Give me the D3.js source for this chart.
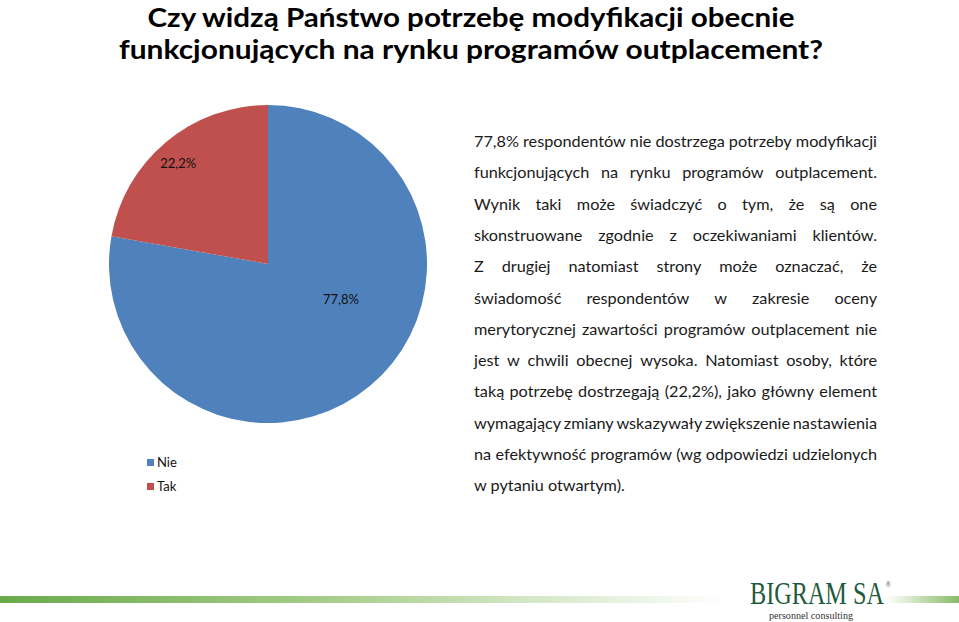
<!DOCTYPE html>
<html><head><meta charset="utf-8">
<script src="https://cdn.jsdelivr.net/npm/d3@7"></script>
<style>body{margin:0;background:#fff}svg{display:block}</style>
</head><body>
<svg id="c" width="959" height="622"></svg>
<script>
const categories = ["Nie", "Tak"];
const values = [77.8, 22.2];
const labels = ["77,8%", "22,2%"];
const colors = ["#4f81bd", "#c0504d"];
const titleLines = ["Czy widzą Państwo potrzebę modyfikacji obecnie", "funkcjonujących na rynku programów outplacement?"];
const bodyLines = [
 "77,8% respondentów nie dostrzega potrzeby modyfikacji",
 "funkcjonujących na rynku programów outplacement.",
 "Wynik taki może świadczyć o tym, że są one",
 "skonstruowane zgodnie z oczekiwaniami klientów.",
 "Z drugiej natomiast strony może oznaczać, że",
 "świadomość respondentów w zakresie oceny",
 "merytorycznej zawartości programów outplacement nie",
 "jest w chwili obecnej wysoka. Natomiast osoby, które",
 "taką potrzebę dostrzegają (22,2%), jako główny element",
 "wymagający zmiany wskazywały zwiększenie nastawienia",
 "na efektywność programów (wg odpowiedzi udzielonych",
 "w pytaniu otwartym)."
];

const svg = d3.select("#c");
const FONT = "Lato, 'Open Sans', sans-serif";

// gradient bar
const defs = svg.append("defs");
const g1 = defs.append("linearGradient").attr("id","gl");
g1.append("stop").attr("offset","0").attr("stop-color","#6aaa4a");
g1.append("stop").attr("offset","0.45").attr("stop-color","#a6cd8a");
g1.append("stop").attr("offset","1").attr("stop-color","#ffffff");
const g2 = defs.append("linearGradient").attr("id","gr");
g2.append("stop").attr("offset","0").attr("stop-color","#ffffff");
g2.append("stop").attr("offset","1").attr("stop-color","#86bb66");
svg.append("rect").attr("x",0).attr("y",596).attr("width",725).attr("height",7).attr("fill","url(#gl)");
svg.append("rect").attr("x",886).attr("y",596).attr("width",73).attr("height",7).attr("fill","url(#gr)");

// title (squeezed to the reference width)
svg.append("text").attr("x",471).attr("y",27).attr("text-anchor","middle")
  .attr("font-family",FONT).attr("font-weight","bold").attr("font-size",27).attr("fill","#000")
  .attr("textLength",647).attr("lengthAdjust","spacingAndGlyphs").text(titleLines[0]);
svg.append("text").attr("x",471).attr("y",59).attr("text-anchor","middle")
  .attr("font-family",FONT).attr("font-weight","bold").attr("font-size",27).attr("fill","#000")
  .attr("textLength",704).attr("lengthAdjust","spacingAndGlyphs").text(titleLines[1]);

// pie
const cx = 268, cy = 264, R = 159;
const pie = d3.pie().sort(null).value(d=>d)(values);
const arc = d3.arc().innerRadius(0).outerRadius(R);
const pg = svg.append("g").attr("transform",`translate(${cx},${cy})`);
pg.selectAll("path").data(pie).join("path").attr("d",arc).attr("fill",(d,i)=>colors[i]);
// label placement (fraction of radius, angle shift in radians) like the source's best fit
const labelPos = [{r:0.51, shift:-0.42}, {r:0.85, shift:-0.03}];
pg.selectAll("text.l").data(pie).join("text").attr("class","l")
  .attr("transform",(d,i)=>{
    const a = (d.startAngle+d.endAngle)/2 + labelPos[i].shift;
    const rr = R*labelPos[i].r;
    return `translate(${rr*Math.sin(a)},${-rr*Math.cos(a)})`; })
  .attr("text-anchor","middle").attr("dy","0.35em")
  .attr("font-family",FONT).attr("font-size",13).attr("fill","#111")
  .text((d,i)=>labels[i]);

// legend
const lg = svg.append("g");
categories.forEach((c,i)=>{
  const y = 467 + i*24;
  lg.append("rect").attr("x",147).attr("y",y-8).attr("width",7).attr("height",7).attr("fill",colors[i]);
  lg.append("text").attr("x",157).attr("y",y).attr("font-family",FONT).attr("font-size",13).attr("fill","#111").text(c);
});

// body text, justified
const x0 = 474, x1 = 877;
const tmp = svg.append("text").attr("font-family",FONT).attr("font-size",16).text(bodyLines[0]);
const bfs = 16 * (x1-x0) / tmp.node().getComputedTextLength();
tmp.remove();
const bg = svg.append("g").attr("font-family",FONT).attr("font-size",bfs).attr("fill","#1a1a1a");
bodyLines.forEach((line,i)=>{
  const y = 147 + i*31.3;
  const words = line.split(" ");
  if (i === bodyLines.length-1) {
    bg.append("text").attr("x",x0).attr("y",y).text(line);
    return;
  }
  const els = words.map(w=>bg.append("text").attr("y",y).text(w));
  const ws = els.map(e=>e.node().getComputedTextLength());
  const total = d3.sum(ws);
  const gap = (x1-x0-total)/(words.length-1);
  let x = x0;
  els.forEach((e,k)=>{ e.attr("x",x); x += ws[k]+gap; });
});

// logo: condensed serif wordmark with superscript ®
const logo = svg.append("g");
const lw = logo.append("text").attr("x",0).attr("y",0)
  .attr("font-family","'Liberation Serif', 'DejaVu Serif', serif").attr("font-size",31).attr("fill","#1f5a3c");
const main = lw.append("tspan").text("BIGRAM SA");
const mainW = main.node().getComputedTextLength();
lw.append("tspan").attr("dx",2).attr("dy",-17).attr("font-size",9).text("®");
const sx = 134 / mainW;
lw.attr("transform",`translate(750,604) scale(${sx},1)`);
logo.append("text").attr("x",769).attr("y",619)
  .attr("font-family","'Liberation Serif', serif").attr("font-size",10.5).attr("fill","#333")
  .attr("textLength",84).attr("lengthAdjust","spacingAndGlyphs").text("personnel consulting");
</script>
</body></html>
